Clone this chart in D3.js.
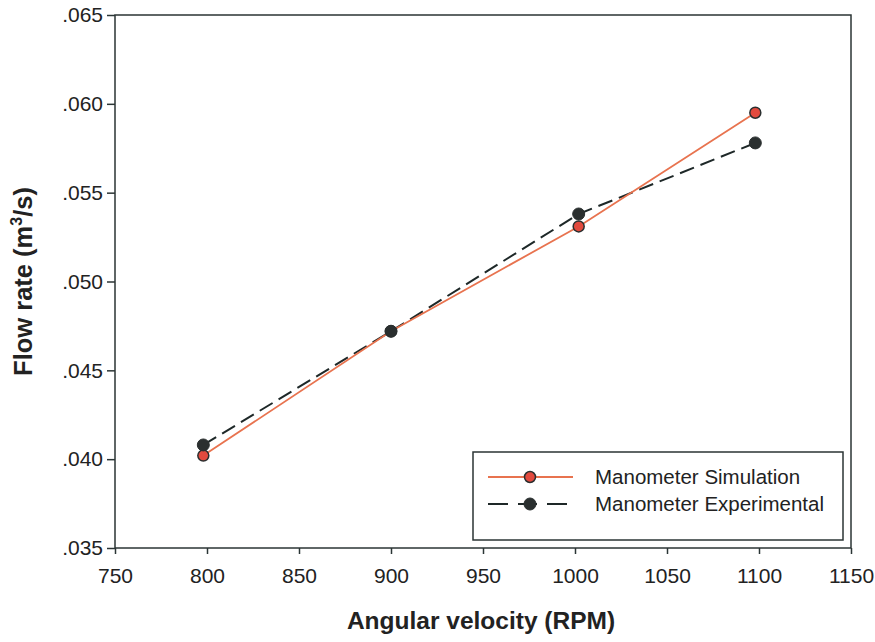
<!DOCTYPE html>
<meta charset="utf-8">
<script src="https://d3js.org/d3.v7.min.js"></script>
<style>
  body { margin: 0; background: #fff; }
  text { font-family: "Liberation Sans", Arial, sans-serif; }
</style>
<div id="chart"></div>
<script>
var rpm = [798, 900, 1002, 1098];
var simulation = [0.0402, 0.0472, 0.0531, 0.0595];
var experimental = [0.0408, 0.0472, 0.0538, 0.0578];
var xTicks = [750, 800, 850, 900, 950, 1000, 1050, 1100, 1150];
var yTicks = [0.035, 0.040, 0.045, 0.050, 0.055, 0.060, 0.065];

var margin = {top: 15, right: 24, bottom: 94, left: 115},
    width = 875 - margin.left - margin.right,
    height = 642 - margin.top - margin.bottom;

var svg = d3.select("#chart").append("svg")
    .attr("width", 875).attr("height", 642)
  .append("g")
    .attr("transform", "translate(" + margin.left + "," + margin.top + ")");

var x = d3.scaleLinear().domain([750, 1150]).range([0, width]);
var y = d3.scaleLinear().domain([0.035, 0.065]).range([height, 0]);

var axisColor = "#2b3535";

// frame
svg.append("rect")
  .attr("width", width).attr("height", height)
  .attr("fill", "none").attr("stroke", axisColor).attr("stroke-width", 1.5);

var fmtY = function(d) { return d3.format(".3f")(d).replace(/^0/, ""); };

var gx = svg.append("g")
  .attr("transform", "translate(0," + height + ")")
  .call(d3.axisBottom(x).tickValues(xTicks).tickSize(6).tickPadding(14).tickFormat(d3.format("d")));
var gy = svg.append("g")
  .call(d3.axisLeft(y).tickValues(yTicks).tickSize(8).tickPadding(4).tickFormat(fmtY));

[gx, gy].forEach(function(g) {
  g.select(".domain").remove();
  g.selectAll("line").attr("stroke", axisColor).attr("stroke-width", 1.5);
  g.selectAll("text").attr("font-size", 21).attr("fill", "#222")
    .attr("font-family", "Liberation Sans, Arial, sans-serif");
});

// axis titles
svg.append("text")
  .attr("x", width / 2 - 2).attr("y", height + 81)
  .attr("text-anchor", "middle")
  .attr("font-size", 24.5).attr("font-weight", "bold").attr("fill", "#222")
  .text("Angular velocity (RPM)");

var yt = svg.append("text")
  .attr("transform", "translate(" + (-83) + "," + (height / 2) + ") rotate(-90)")
  .attr("text-anchor", "middle")
  .attr("font-size", 25.5).attr("font-weight", "bold").attr("fill", "#222");
yt.append("tspan").text("Flow rate (m");
yt.append("tspan").attr("font-size", 16).attr("dy", -10).text("3");
yt.append("tspan").attr("dy", 10).text("/s)");

var line = d3.line()
  .x(function(d) { return x(d[0]); })
  .y(function(d) { return y(d[1]); });

var simColor = "#e8734f", simFill = "#e24a3e", expFill = "#2a2f2f";

var expData = rpm.map(function(r, i) { return [r, experimental[i]]; });
var simData = rpm.map(function(r, i) { return [r, simulation[i]]; });

svg.append("path").datum(expData)
  .attr("fill", "none").attr("stroke", "#1e2828").attr("stroke-width", 2)
  .attr("stroke-dasharray", "15,7")
  .attr("d", line);

svg.append("path").datum(simData)
  .attr("fill", "none").attr("stroke", simColor).attr("stroke-width", 1.8)
  .attr("d", line);

svg.selectAll(".sim").data(simData).enter().append("circle")
  .attr("cx", function(d) { return x(d[0]); })
  .attr("cy", function(d) { return y(d[1]); })
  .attr("r", 5.5).attr("fill", simFill).attr("stroke", "#2a2f2f").attr("stroke-width", 1.5);

svg.selectAll(".exp").data(expData).enter().append("circle")
  .attr("cx", function(d) { return x(d[0]); })
  .attr("cy", function(d) { return y(d[1]); })
  .attr("r", 6).attr("fill", expFill).attr("stroke", "#2a2f2f").attr("stroke-width", 1);

// legend
var lg = svg.append("g").attr("transform", "translate(" + (473 - margin.left) + "," + (452 - margin.top) + ")");
lg.append("rect").attr("width", 370).attr("height", 88)
  .attr("fill", "#fff").attr("stroke", axisColor).attr("stroke-width", 1.5);

var row1 = 25, row2 = 52;
lg.append("line").attr("x1", 15).attr("x2", 100).attr("y1", row1).attr("y2", row1)
  .attr("stroke", simColor).attr("stroke-width", 1.8);
lg.append("circle").attr("cx", 57).attr("cy", row1).attr("r", 5.5)
  .attr("fill", simFill).attr("stroke", "#2a2f2f").attr("stroke-width", 1.5);
lg.append("line").attr("x1", 15).attr("x2", 100).attr("y1", row2).attr("y2", row2)
  .attr("stroke", "#1e2828").attr("stroke-width", 2).attr("stroke-dasharray", "20,10,9,0,0,0,10,10,20");
lg.append("circle").attr("cx", 57).attr("cy", row2).attr("r", 6)
  .attr("fill", expFill).attr("stroke", "#2a2f2f").attr("stroke-width", 1);

lg.append("text").attr("x", 122).attr("y", row1 + 7).attr("font-size", 20.5).attr("fill", "#222")
  .text("Manometer Simulation");
lg.append("text").attr("x", 122).attr("y", row2 + 7).attr("font-size", 20.5).attr("fill", "#222")
  .text("Manometer Experimental");
</script>
